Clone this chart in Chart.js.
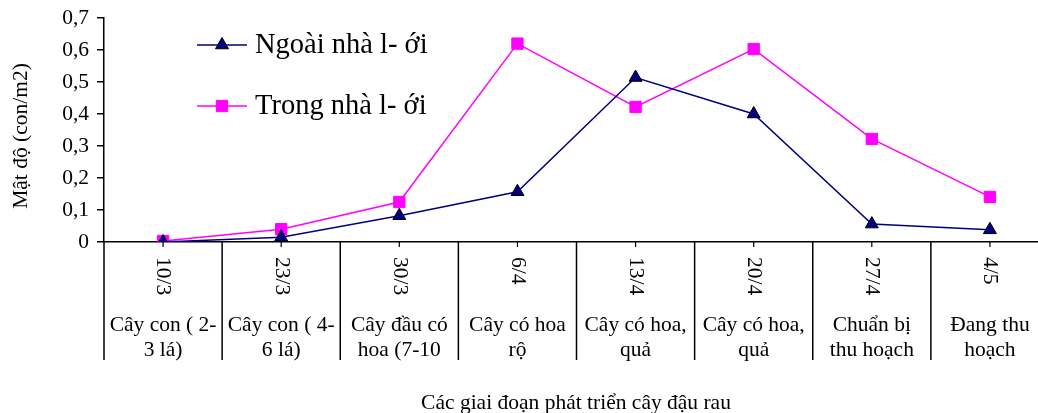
<!DOCTYPE html>
<html>
<head>
<meta charset="utf-8">
<script src="https://cdn.jsdelivr.net/npm/chart.js@4/dist/chart.umd.min.js"></script>
<style>
html,body{margin:0;padding:0;background:#fff;overflow:hidden;}
#wrap{width:1058px;height:413px;}
</style>
</head>
<body>
<div id="wrap"><canvas id="c" width="1058" height="413"></canvas></div>
<script>
const dates = ["10/3","23/3","30/3","6/4","13/4","20/4","27/4","4/5"];
const stages = [["Cây con ( 2-","3 lá)"],["Cây con ( 4-","6 lá)"],["Cây đầu có","hoa (7-10"],["Cây có hoa","rộ"],["Cây có hoa,","quả"],["Cây có hoa,","quả"],["Chuẩn bị","thu hoạch"],["Đang thu","hoạch"]];
const outsideNet = [0, 0.015, 0.082, 0.157, 0.514, 0.40, 0.056, 0.038];
const insideNet = [0.003, 0.04, 0.125, 0.62, 0.422, 0.603, 0.322, 0.141];
const seriesNames = ["Ngoài nhà l- ới","Trong nhà l- ới"];
const yTitle = "Mật độ (con/m2)";
const xTitle = "Các giai đoạn phát triển cây đậu rau";

const FONT = "'Liberation Serif', 'Times New Roman', serif";
const LABEL_SIZE = 21.5;

const decor = {
  id: 'decor',
  afterDraw(chart) {
    const ctx = chart.ctx;
    const x = chart.scales.x;
    const ca = chart.chartArea;
    const y0 = ca.bottom;
    const step = x.getPixelForValue(1) - x.getPixelForValue(0);
    ctx.save();
    ctx.strokeStyle = '#000';
    ctx.lineWidth = 1.5;
    // separators at category boundaries
    for (let i = 0; i <= dates.length; i++) {
      const px = x.getPixelForValue(0) - step / 2 + i * step;
      ctx.beginPath(); ctx.moveTo(px, y0); ctx.lineTo(px, 360); ctx.stroke();
    }
    // center ticks
    ctx.lineWidth = 1.2;
    for (let i = 0; i < dates.length; i++) {
      const px = x.getPixelForValue(i);
      ctx.beginPath(); ctx.moveTo(px, y0); ctx.lineTo(px, y0 + 5); ctx.stroke();
    }
    ctx.fillStyle = '#000';
    // rotated date labels
    ctx.font = LABEL_SIZE + 'px ' + FONT;
    for (let i = 0; i < dates.length; i++) {
      const px = x.getPixelForValue(i);
      ctx.save();
      ctx.translate(px, 257);
      ctx.rotate(Math.PI / 2);
      ctx.textAlign = 'left';
      ctx.textBaseline = 'middle';
      ctx.fillText(dates[i], 0, 0);
      ctx.restore();
    }
    // stage labels
    ctx.textAlign = 'center';
    ctx.textBaseline = 'middle';
    for (let i = 0; i < stages.length; i++) {
      const px = x.getPixelForValue(i);
      stages[i].forEach((t, j) => ctx.fillText(t, px, 325 + j * 25));
    }
    // x title
    ctx.fillText(xTitle, 576, 403);
    // y title
    ctx.save();
    ctx.translate(21, 136);
    ctx.rotate(-Math.PI / 2);
    ctx.fillText(yTitle, 0, 0);
    ctx.restore();
    // legend
    ctx.font = '28.5px ' + FONT;
    ctx.textAlign = 'left';
    const rows = [45, 106];
    chart.data.datasets.forEach((ds, i) => {
      const ly = rows[i];
      ctx.strokeStyle = ds.borderColor;
      ctx.lineWidth = ds.borderWidth;
      ctx.beginPath(); ctx.moveTo(197, ly); ctx.lineTo(247, ly); ctx.stroke();
      ctx.fillStyle = ds.pointBackgroundColor;
      ctx.strokeStyle = ds.pointBorderColor;
      ctx.lineWidth = 1;
      Chart.helpers.drawPoint(ctx, {pointStyle: ds.pointStyle, radius: ds.pointRadius, borderWidth: 1}, 222, ly);
      ctx.fillStyle = '#000';
      ctx.fillText(ds.label, 255, ly + 1);
    });
    ctx.restore();
  }
};

new Chart(document.getElementById('c'), {
  type: 'line',
  data: {
    labels: dates,
    datasets: [
      {
        label: seriesNames[0], data: outsideNet,
        borderColor: '#000080', borderWidth: 1.5,
        pointStyle: 'triangle', pointRadius: 7.5,
        pointBackgroundColor: '#000080', pointBorderColor: '#000000', pointBorderWidth: 1,
        tension: 0
      },
      {
        label: seriesNames[1], data: insideNet,
        borderColor: '#FF00FF', borderWidth: 1.5,
        pointStyle: 'rect', pointRadius: 8,
        pointBackgroundColor: '#FF00FF', pointBorderColor: '#FF00FF', pointBorderWidth: 1,
        tension: 0
      }
    ]
  },
  options: {
    responsive: false,
    animation: false,
    devicePixelRatio: 1,
    layout: { padding: { top: 18, left: 0, right: 0, bottom: 0 } },
    plugins: { legend: { display: false }, tooltip: { enabled: false } },
    scales: {
      x: {
        type: 'category', offset: true,
        grid: { display: false },
        border: { display: true, color: '#000', width: 1.5 },
        ticks: { display: false },
        afterFit(s) { s.height = 171; }
      },
      y: {
        min: 0, max: 0.7,
        ticks: {
          stepSize: 0.1, color: '#000', padding: 8,
          font: { family: FONT, size: 21.5 },
          callback: v => (Math.round(v * 10) / 10).toString().replace('.', ',')
        },
        grid: { drawOnChartArea: false, drawTicks: true, tickLength: 7, color: '#000', lineWidth: 1.5 },
        border: { display: true, color: '#000', width: 1.5 },
        afterFit(s) { s.width = 104; s.paddingTop = 0; s.paddingBottom = 0; }
      }
    }
  },
  plugins: [decor]
});
</script>
</body>
</html>
